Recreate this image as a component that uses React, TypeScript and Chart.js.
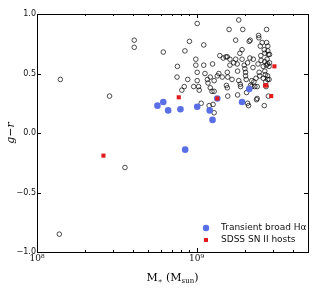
import React, { useEffect, useRef } from "react";
import { Chart, registerables } from "chart.js";

Chart.register(...registerables);

// ---------- data ----------
const hostMass = [
  1.40e8, 1.38e8, 2.85e8, 3.56e8, 4.07e8, 4.07e8, 6.19e8, 7.59e8, 7.55e8, 8.09e8,
  8.38e8, 8.46e8, 8.81e8, 9.03e8, 9.6e8, 9.9e8, 9.9e8, 1.01e9, 1.01e9, 1.01e9,
  1.03e9, 1.04e9, 1.07e9, 1.11e9, 1.11e9, 1.13e9, 1.17e9, 1.18e9, 1.20e9, 1.22e9,
  1.22e9, 1.25e9, 1.26e9, 1.27e9, 1.29e9, 1.29e9, 1.29e9, 1.35e9, 1.38e9, 1.40e9,
  1.45e9, 1.47e9, 1.53e9, 1.56e9, 1.56e9, 1.57e9, 1.54e9, 1.56e9, 1.57e9, 1.60e9,
  1.62e9, 1.62e9, 1.67e9, 1.71e9, 1.76e9, 1.76e9, 1.80e9, 1.81e9, 1.81e9, 1.84e9,
  1.84e9, 1.87e9, 1.88e9, 1.89e9, 1.93e9, 1.93e9, 1.95e9, 1.99e9, 2.01e9, 2.03e9,
  2.03e9, 2.05e9, 2.06e9, 2.09e9, 2.12e9, 2.09e9, 2.14e9, 2.16e9, 2.17e9, 2.18e9,
  2.22e9, 2.22e9, 2.26e9, 2.27e9, 2.29e9, 2.32e9, 2.36e9, 2.38e9, 2.40e9, 2.40e9,
  2.43e9, 2.45e9, 2.46e9, 2.47e9, 2.49e9, 2.51e9, 2.53e9, 2.54e9, 2.58e9, 2.62e9,
  2.62e9, 2.66e9, 2.66e9, 2.68e9, 2.68e9, 2.68e9, 2.70e9, 2.72e9, 2.73e9, 2.74e9,
  2.75e9, 2.75e9, 2.77e9, 2.79e9, 2.80e9, 2.79e9, 2.79e9, 2.80e9, 2.82e9, 2.82e9,
  2.85e9, 2.87e9, 2.87e9, 2.85e9,
];
const hostColor = [
  0.45, -0.85, 0.31, -0.29, 0.78, 0.72, 0.68, 0.56, 0.47, 0.36,
  0.39, 0.69, 0.45, 0.77, 0.39, 0.62, 0.57, 0.51, 0.44, 0.92,
  0.39, 0.36, 0.25, 0.74, 0.57, 0.50, 0.45, 0.42, 0.23, 0.47,
  0.38, 0.35, 0.58, 0.24, 0.44, 0.35, 0.17, 0.48, 0.50, 0.65,
  0.47, 0.63, 0.64, 0.51, 0.64, 0.47, 0.40, 0.38, 0.31, 0.87,
  0.62, 0.57, 0.45, 0.59, 0.62, 0.78, 0.58, 0.52, 0.32, 0.95,
  0.44, 0.67, 0.41, 0.39, 0.70, 0.62, 0.87, 0.57, 0.54, 0.51,
  0.48, 0.45, 0.34, 0.25, 0.23, 0.59, 0.77, 0.63, 0.78, 0.40,
  0.44, 0.39, 0.55, 0.62, 0.43, 0.39, 0.46, 0.28, 0.29, 0.39,
  0.58, 0.82, 0.80, 0.51, 0.48, 0.73, 0.65, 0.61, 0.76, 0.56,
  0.46, 0.23, 0.70, 0.67, 0.60, 0.52, 0.49, 0.43, 0.39, 0.57,
  0.87, 0.76, 0.62, 0.48, 0.69, 0.58, 0.45, 0.73, 0.66, 0.31,
  0.56, 0.66, 0.59, 0.45,
];

const transientMass = [5.69e8, 6.19e8, 6.64e8, 7.93e8, 8.49e8, 1.01e9, 1.21e9, 1.26e9, 1.35e9, 1.93e9, 2.14e9];
const transientColor = [0.23, 0.26, 0.19, 0.20, -0.14, 0.22, 0.19, 0.11, 0.29, 0.26, 0.37];

const snMass = [2.61e8, 7.74e8, 1.35e9, 2.69e9, 2.74e9, 2.94e9, 3.08e9];
const snColor = [-0.19, 0.30, 0.29, 0.40, 0.40, 0.31, 0.56];

const xMajorTicks = [1e8, 1e9];
const xMajorLabels = ["10⁸", "10⁹"];
const yTicks = [-1.0, -0.5, 0.0, 0.5, 1.0];
const yTickLabels = ["−1.0", "−0.5", "0.0", "0.5", "1.0"];

const legendLabels = ["Transient broad Hα", "SDSS SN II hosts"];
const BLUE = "#5a6fe6";
const RED = "#e01b1b";

const X_MIN = 1e8;
const X_MAX = 5e9;

function toPoints(xs: number[], ys: number[]) {
  return xs.map((x, i) => ({ x, y: ys[i] }));
}

const framePlugin = {
  id: "frame",
  afterDraw(chart: any) {
    const { ctx, chartArea: a, scales } = chart;
    const xs = scales.x;
    const ys = scales.y;
    ctx.save();
    ctx.strokeStyle = "#000";
    ctx.lineWidth = 1;
    ctx.strokeRect(Math.round(a.left) + 0.5, Math.round(a.top) + 0.5, Math.round(a.right - a.left), Math.round(a.bottom - a.top));

    // x ticks (inward, top and bottom)
    const minor: number[] = [];
    for (let d = 1e8; d < X_MAX; d *= 10) {
      for (let m = 2; m <= 9; m++) {
        const v = m * d;
        if (v < X_MAX) minor.push(v);
      }
    }
    ctx.beginPath();
    for (const v of xMajorTicks) {
      const px = Math.round(xs.getPixelForValue(v)) + 0.5;
      ctx.moveTo(px, a.bottom);
      ctx.lineTo(px, a.bottom - 4);
      ctx.moveTo(px, a.top);
      ctx.lineTo(px, a.top + 4);
    }
    for (const v of minor) {
      const px = Math.round(xs.getPixelForValue(v)) + 0.5;
      ctx.moveTo(px, a.bottom);
      ctx.lineTo(px, a.bottom - 2);
      ctx.moveTo(px, a.top);
      ctx.lineTo(px, a.top + 2);
    }
    for (const v of yTicks) {
      const py = Math.round(ys.getPixelForValue(v)) + 0.5;
      ctx.moveTo(a.left, py);
      ctx.lineTo(a.left + 4, py);
      ctx.moveTo(a.right, py);
      ctx.lineTo(a.right - 4, py);
    }
    ctx.stroke();

    // legend
    const lx = a.right - 102;
    const ly1 = a.bottom - 24;
    const ly2 = a.bottom - 12;
    ctx.fillStyle = BLUE;
    ctx.beginPath();
    ctx.arc(lx, ly1, 3.2, 0, Math.PI * 2);
    ctx.fill();
    ctx.fillStyle = RED;
    ctx.fillRect(lx - 2, ly2 - 2, 4, 4);
    ctx.fillStyle = "#111";
    ctx.font = "9px 'DejaVu Sans'";
    ctx.textBaseline = "middle";
    ctx.textAlign = "left";
    ctx.fillText(legendLabels[0], lx + 15, ly1);
    ctx.fillText(legendLabels[1], lx + 15, ly2);

    // axis titles
    ctx.fillStyle = "#000";
    ctx.textBaseline = "alphabetic";
    const cx = (a.left + a.right) / 2;
    const by = 281;
    const main = "11px 'DejaVu Serif'";
    const sub = "7px 'DejaVu Serif'";
    const parts: [string, string, number][] = [
      ["M", main, 0],
      ["∗", sub, 2],
      [" (M", main, 0],
      ["sun", sub, 2],
      [")", main, 0],
    ];
    let total = 0;
    for (const [t, f] of parts) {
      ctx.font = f;
      total += ctx.measureText(t).width;
    }
    let x = cx - total / 2;
    for (const [t, f, dy] of parts) {
      ctx.font = f;
      ctx.fillText(t, x, by + dy);
      x += ctx.measureText(t).width;
    }

    ctx.save();
    ctx.translate(14, (a.top + a.bottom) / 2);
    ctx.rotate(-Math.PI / 2);
    ctx.font = "italic 11px 'DejaVu Serif'";
    ctx.textAlign = "center";
    ctx.fillText("g−r", 0, 0);
    ctx.restore();

    ctx.restore();
  },
};

export default function App() {
  const ref = useRef<HTMLCanvasElement | null>(null);

  useEffect(() => {
    if (!ref.current) return;
    const chart = new Chart(ref.current, {
      type: "scatter",
      data: {
        datasets: [
          {
            label: "hosts",
            data: toPoints(hostMass, hostColor),
            pointStyle: "circle",
            pointRadius: 2.3,
            pointBorderWidth: 0.7,
            borderColor: "#000",
            backgroundColor: "rgba(0,0,0,0)",
            order: 3,
          },
          {
            label: legendLabels[0],
            data: toPoints(transientMass, transientColor),
            pointStyle: "circle",
            pointRadius: 3.3,
            pointBorderWidth: 0,
            borderColor: BLUE,
            backgroundColor: BLUE,
            order: 2,
          },
          {
            label: legendLabels[1],
            data: toPoints(snMass, snColor),
            pointStyle: "rect",
            pointRadius: 2.9,
            pointBorderWidth: 0,
            borderColor: RED,
            backgroundColor: RED,
            order: 1,
          },
        ],
      },
      options: {
        responsive: false,
        animation: false,
        events: [],
        layout: { padding: { top: 14, right: 17, left: 0, bottom: 0 } },
        plugins: { legend: { display: false }, tooltip: { enabled: false } },
        scales: {
          x: {
            type: "logarithmic",
            min: X_MIN,
            max: X_MAX,
            grid: { display: false, drawTicks: false },
            border: { display: false },
            afterBuildTicks(scale: any) {
              scale.ticks = xMajorTicks.map((v) => ({ value: v }));
            },
            afterFit(scale: any) {
              scale.height = 38;
            },
            ticks: {
              autoSkip: false,
              maxRotation: 0,
              padding: 1,
              color: "#111",
              font: { family: "'DejaVu Serif'", size: 9 },
              callback: (v: any) => {
                const i = xMajorTicks.indexOf(Number(v));
                return i >= 0 ? xMajorLabels[i] : "";
              },
            },
          },
          y: {
            min: -1,
            max: 1,
            grid: { display: false, drawTicks: false },
            border: { display: false },
            afterBuildTicks(scale: any) {
              scale.ticks = yTicks.map((v) => ({ value: v }));
            },
            afterFit(scale: any) {
              scale.width = 37;
            },
            ticks: {
              padding: 1,
              color: "#111",
              font: { family: "'DejaVu Sans'", size: 8 },
              callback: (v: any) => {
                const i = yTicks.indexOf(Number(v));
                return i >= 0 ? yTickLabels[i] : "";
              },
            },
          },
        },
      },
      plugins: [framePlugin],
    });
    return () => chart.destroy();
  }, []);

  return (
    <div style={{ position: "fixed", left: 0, top: 0, width: 325, height: 290, background: "#fff" }}>
      <canvas ref={ref} width={325} height={290} />
    </div>
  );
}
